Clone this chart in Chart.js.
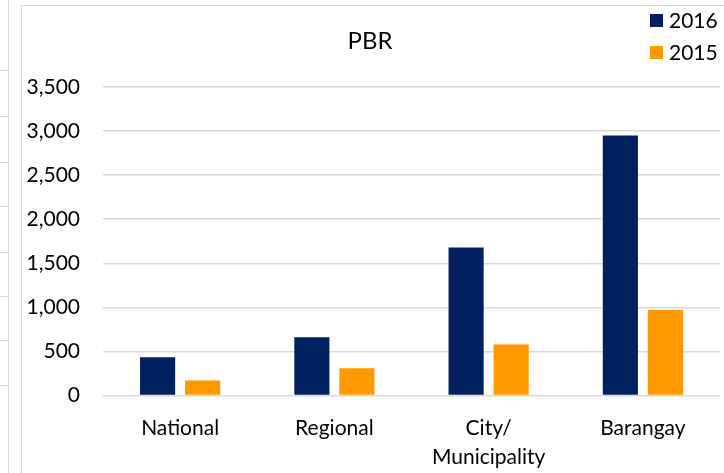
<!DOCTYPE html>
<html>
<head>
<meta charset="utf-8">
<script src="https://cdn.jsdelivr.net/npm/chart.js@4/dist/chart.umd.min.js"></script>
<style>
  html, body { margin: 0; padding: 0; background: #fff; overflow: hidden; }
  body { width: 724px; height: 473px; position: relative; }
  #side {
    position: absolute; left: 0; top: 0; width: 8px; height: 473px;
    border-right: 1px solid #d9d9d9;
  }
  #side div { position: absolute; left: 0; width: 8px; height: 1px; background: #d9d9d9; }
  #frame {
    position: absolute; left: 21px; top: 5px; width: 720px; height: 490px;
    border: 1px solid #d9d9d9;
  }
  #wrap { position: absolute; left: 22px; top: 6px; width: 702px; height: 467px; }
</style>
</head>
<body>
<div id="side"></div>
<div id="frame"></div>
<div id="wrap"><canvas id="myChart"></canvas></div>
<script>
// data
const categories = ['National', 'Regional', ['City/', 'Municipality'], 'Barangay'];
const values2016 = [435, 660, 1680, 2950];
const values2015 = [170, 310, 580, 970];
const seriesNames = ['2016', '2015'];
const seriesColors = ['#002060', '#FF9900'];

// gridline stubs of the neighbouring chart on the left
const side = document.getElementById('side');
[70, 116, 162, 206, 252, 296, 340, 385].forEach(y => {
    const d = document.createElement('div');
    d.style.top = y + 'px';
    side.appendChild(d);
});

const FONT = 'Lato, "Noto Sans", sans-serif';

// title + legend drawn in the top area
const headerPlugin = {
    id: 'header',
    afterDraw(chart) {
        const ctx = chart.ctx;
        ctx.save();
        ctx.fillStyle = '#000';
        ctx.font = '24px ' + FONT;
        ctx.textAlign = 'center';
        ctx.textBaseline = 'middle';
        ctx.fillText('PBR', 348, 35);
        ctx.font = '21px ' + FONT;
        ctx.textAlign = 'left';
        chart.data.datasets.forEach((ds, i) => {
            const cy = 15 + i * 32;
            ctx.fillStyle = ds.backgroundColor;
            ctx.fillRect(628, cy - 7, 13, 13);
            ctx.fillStyle = '#000';
            ctx.fillText(ds.label, 647, cy);
        });
        ctx.restore();
    }
};

const config = {
    type: 'bar',
    data: {
        labels: categories,
        datasets: [{
            label: seriesNames[0],
            data: values2016,
            backgroundColor: seriesColors[0]
        }, {
            label: seriesNames[1],
            data: values2015,
            backgroundColor: seriesColors[1]
        }]
    },
    options: {
        responsive: true,
        maintainAspectRatio: false,
        animation: false,
        layout: { padding: { top: 81, right: 4, left: 0, bottom: 0 } },
        datasets: {
            bar: { categoryPercentage: 0.584, barPercentage: 0.78 }
        },
        scales: {
            x: {
                grid: { display: false },
                border: { display: false },
                ticks: {
                    color: '#000',
                    font: { family: FONT, size: 21, lineHeight: 1.4 },
                    padding: 10,
                    maxRotation: 0
                },
                afterFit(s) { s.height = 77.5; }
            },
            y: {
                min: 0,
                max: 3500,
                grid: { color: '#d9d9d9', lineWidth: 1.5, drawTicks: false },
                border: { display: false },
                ticks: {
                    stepSize: 500,
                    color: '#000',
                    font: { family: FONT, size: 21 },
                    padding: 23,
                    callback: v => v.toLocaleString('en-US')
                },
                afterFit(s) { s.width = 81; }
            }
        },
        plugins: {
            legend: { display: false },
            title: { display: false },
            tooltip: { enabled: false }
        }
    },
    plugins: [headerPlugin]
};

new Chart(document.getElementById('myChart'), config);
</script>
</body>
</html>
